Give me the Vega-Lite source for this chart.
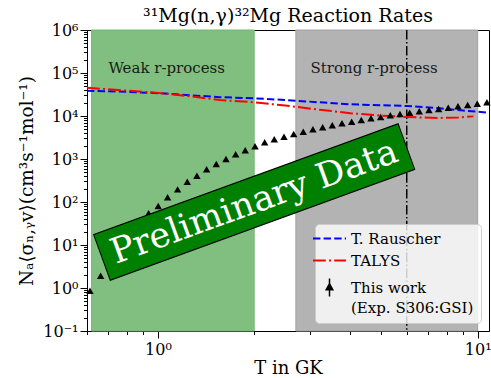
{
  "$schema": "https://vega.github.io/schema/vega-lite/v6.json",
  "width": 402,
  "height": 301,
  "autosize": {"type": "none"},
  "padding": {"left": 87, "top": 30, "right": 2, "bottom": 47},
  "background": "white",
  "title": {"text": "³¹Mg(n,γ)³²Mg Reaction Rates", "font": "DejaVu Serif", "fontSize": 19, "fontWeight": "normal", "color": "black", "offset": -4},
  "config": {
    "view": {"stroke": "black", "strokeWidth": 1},
    "font": "DejaVu Serif"
  },
  "datasets": {
    "bands": [
      {"region": "weak", "start": 0.62, "end": 2.0, "label": "Weak r-process", "labelT": 0.7, "labelRate": 100000},
      {"region": "strong", "start": 2.7, "end": 10.0, "label": "Strong r-process", "labelT": 3.0, "labelRate": 100000}
    ],
    "marker": [{"T": 6.0}],
    "theory": [
      {"model": "T. Rauscher", "T": 0.6, "rate": 38700},
      {"model": "T. Rauscher", "T": 0.8, "rate": 36500},
      {"model": "T. Rauscher", "T": 1.0, "rate": 34000},
      {"model": "T. Rauscher", "T": 1.56, "rate": 27400},
      {"model": "T. Rauscher", "T": 2.0, "rate": 25700},
      {"model": "T. Rauscher", "T": 2.5, "rate": 23600},
      {"model": "T. Rauscher", "T": 3.2, "rate": 20800},
      {"model": "T. Rauscher", "T": 4.0, "rate": 18700},
      {"model": "T. Rauscher", "T": 5.0, "rate": 17800},
      {"model": "T. Rauscher", "T": 6.0, "rate": 17100},
      {"model": "T. Rauscher", "T": 7.6, "rate": 15100},
      {"model": "T. Rauscher", "T": 9.0, "rate": 13400},
      {"model": "T. Rauscher", "T": 10.85, "rate": 11900},
      {"model": "TALYS", "T": 0.6, "rate": 45500},
      {"model": "TALYS", "T": 0.75, "rate": 40300},
      {"model": "TALYS", "T": 1.0, "rate": 34500},
      {"model": "TALYS", "T": 1.3, "rate": 28000},
      {"model": "TALYS", "T": 1.56, "rate": 23600},
      {"model": "TALYS", "T": 2.0, "rate": 20800},
      {"model": "TALYS", "T": 2.5, "rate": 17500},
      {"model": "TALYS", "T": 3.2, "rate": 14000},
      {"model": "TALYS", "T": 4.0, "rate": 11600},
      {"model": "TALYS", "T": 5.0, "rate": 10200},
      {"model": "TALYS", "T": 6.0, "rate": 9500},
      {"model": "TALYS", "T": 7.5, "rate": 9000},
      {"model": "TALYS", "T": 8.7, "rate": 9200},
      {"model": "TALYS", "T": 9.7, "rate": 9800}
    ],
    "exp": [
      {"model": "This work", "T": 0.613, "rate": 0.865},
      {"model": "This work", "T": 0.662, "rate": 1.93},
      {"model": "This work", "T": 0.708, "rate": 4.0},
      {"model": "This work", "T": 0.759, "rate": 8.5},
      {"model": "This work", "T": 0.813, "rate": 16},
      {"model": "This work", "T": 0.872, "rate": 31},
      {"model": "This work", "T": 0.935, "rate": 55},
      {"model": "This work", "T": 1.002, "rate": 81},
      {"model": "This work", "T": 1.072, "rate": 129},
      {"model": "This work", "T": 1.152, "rate": 197},
      {"model": "This work", "T": 1.235, "rate": 296},
      {"model": "This work", "T": 1.324, "rate": 409},
      {"model": "This work", "T": 1.42, "rate": 576},
      {"model": "This work", "T": 1.522, "rate": 766},
      {"model": "This work", "T": 1.632, "rate": 1000},
      {"model": "This work", "T": 1.75, "rate": 1285},
      {"model": "This work", "T": 1.875, "rate": 1593},
      {"model": "This work", "T": 2.012, "rate": 1972},
      {"model": "This work", "T": 2.157, "rate": 2445},
      {"model": "This work", "T": 2.311, "rate": 2870},
      {"model": "This work", "T": 2.479, "rate": 3300},
      {"model": "This work", "T": 2.658, "rate": 3812},
      {"model": "This work", "T": 2.848, "rate": 4313},
      {"model": "This work", "T": 3.053, "rate": 4907},
      {"model": "This work", "T": 3.275, "rate": 5460},
      {"model": "This work", "T": 3.51, "rate": 6080},
      {"model": "This work", "T": 3.764, "rate": 6770},
      {"model": "This work", "T": 4.036, "rate": 7370},
      {"model": "This work", "T": 4.325, "rate": 8070},
      {"model": "This work", "T": 4.638, "rate": 8840},
      {"model": "This work", "T": 4.973, "rate": 9480},
      {"model": "This work", "T": 5.33, "rate": 10380},
      {"model": "This work", "T": 5.715, "rate": 11140},
      {"model": "This work", "T": 6.128, "rate": 11950},
      {"model": "This work", "T": 6.568, "rate": 12860},
      {"model": "This work", "T": 7.042, "rate": 13800},
      {"model": "This work", "T": 7.551, "rate": 14560},
      {"model": "This work", "T": 8.091, "rate": 15610},
      {"model": "This work", "T": 8.677, "rate": 16820},
      {"model": "This work", "T": 9.305, "rate": 18030},
      {"model": "This work", "T": 9.97, "rate": 19330},
      {"model": "This work", "T": 10.69, "rate": 20840}
    ],
    "annot": [{"T": 2.0, "rate": 100, "text": "Preliminary Data"}]
  },
  "layer": [
    {
      "data": {"name": "bands"},
      "transform": [{"filter": "datum.region === 'weak'"}],
      "mark": {"type": "rect", "fill": "#80bf80", "stroke": "#72b872", "strokeWidth": 1},
      "encoding": {
        "x": {
          "field": "start", "type": "quantitative",
          "scale": {"type": "log", "domain": [0.6, 10.85], "nice": false},
          "axis": {
            "title": "T in GK", "titleFont": "DejaVu Serif", "titleFontSize": 18, "titleFontWeight": "normal", "titleColor": "black", "titlePadding": 2,
            "values": [0.6, 0.7, 0.8, 0.9, 1, 2, 3, 4, 5, 6, 7, 8, 9, 10],
            "labelExpr": "datum.value == 1 ? '10⁰' : datum.value == 10 ? '10¹' : ''",
            "labelFont": "DejaVu Serif", "labelFontSize": 16, "labelColor": "black", "labelPadding": 3, "labelOverlap": false, "labelFlush": false,
            "tickSize": {"condition": {"test": "datum.value == 1 || datum.value == 10", "value": 7}, "value": 3.5},
            "tickColor": "black", "domainColor": "black", "grid": false
          }
        },
        "x2": {"field": "end"}
      }
    },
    {
      "data": {"name": "bands"},
      "transform": [{"filter": "datum.region === 'strong'"}],
      "mark": {"type": "rect", "fill": "#b3b3b3", "stroke": "#a2a2a2", "strokeWidth": 1},
      "encoding": {
        "x": {"field": "start", "type": "quantitative"},
        "x2": {"field": "end"}
      }
    },
    {
      "data": {"name": "bands"},
      "mark": {"type": "text", "align": "left", "baseline": "alphabetic", "font": "DejaVu Serif", "fontSize": 15, "color": "#1a1a1a"},
      "encoding": {
        "x": {"field": "labelT", "type": "quantitative"},
        "y": {
          "field": "labelRate", "type": "quantitative",
          "scale": {"type": "log", "domain": [0.1, 1000000], "nice": false},
          "axis": {
            "title": "Nₐ⟨σₙ,ᵧv⟩(cm³s⁻¹mol⁻¹)", "titleFont": "DejaVu Serif", "titleFontSize": 18.5, "titleFontWeight": "normal", "titleColor": "black", "titlePadding": 6,
            "values": [0.1,0.2,0.3,0.4,0.5,0.6,0.7,0.8,0.9,1,2,3,4,5,6,7,8,9,10,20,30,40,50,60,70,80,90,100,200,300,400,500,600,700,800,900,1000,2000,3000,4000,5000,6000,7000,8000,9000,10000,20000,30000,40000,50000,60000,70000,80000,90000,100000,200000,300000,400000,500000,600000,700000,800000,900000,1000000],
            "labelExpr": "abs(log(datum.value)/LN10 - round(log(datum.value)/LN10)) < 0.001 ? '10' + ['⁻¹','⁰','¹','²','³','⁴','⁵','⁶'][round(log(datum.value)/LN10) + 1] : ''",
            "labelFont": "DejaVu Serif", "labelFontSize": 16, "labelColor": "black", "labelPadding": 2, "labelOverlap": false, "labelFlush": false,
            "tickSize": {"condition": {"test": "abs(log(datum.value)/LN10 - round(log(datum.value)/LN10)) < 0.001", "value": 7}, "value": 3.5},
            "tickColor": "black", "domainColor": "black", "grid": false
          }
        },
        "text": {"field": "label"}
      }
    },
    {
      "data": {"name": "marker"},
      "mark": {"type": "rule", "color": "black", "strokeWidth": 1.5, "strokeDash": [9.6, 2.4, 1.5, 2.4]},
      "encoding": {
        "x": {"field": "T", "type": "quantitative"}
      }
    },
    {
      "data": {"name": "theory"},
      "mark": {"type": "line", "strokeWidth": 2},
      "encoding": {
        "x": {"field": "T", "type": "quantitative"},
        "y": {"field": "rate", "type": "quantitative"},
        "color": {
          "field": "model", "type": "nominal",
          "scale": {"domain": ["T. Rauscher", "TALYS", "This work"], "range": ["blue", "red", "black"]},
          "legend": {
            "title": null, "orient": "bottom-right", "offset": 8,
            "labelFont": "DejaVu Serif", "labelFontSize": 15, "labelColor": "black", "labelLimit": 300,
            "labelOffset": 14, "symbolSize": 1089, "padding": 7, "rowPadding": 6,
            "fillColor": "rgba(255,255,255,0.8)", "strokeColor": "#cccccc", "cornerRadius": 4,
            "labelExpr": "datum.label === 'This work' ? ['This work', '(Exp. S306:GSI)'] : datum.label",
            "encode": {
              "labels": {
                "update": {
                  "font": {"value": "DejaVu Serif"},
                  "lineHeight": {"value": 20}
                }
              },
              "symbols": {
                "update": {
                  "shape": {"signal": "datum.value === 'This work' ? 'M0,-0.55L0,0.55M-0.2,0.14L0,-0.24L0.2,0.14Z' : 'stroke'"},
                  "strokeDash": {"signal": "datum.value === 'T. Rauscher' ? [7.4, 3.2] : datum.value === 'TALYS' ? [12.8, 3.2, 2, 3.2] : [1, 0]"},
                  "strokeWidth": {"signal": "datum.value === 'This work' ? 1.5 : 2"},
                  "fill": {"signal": "datum.value === 'This work' ? 'black' : 'transparent'"},
                  "stroke": {"signal": "datum.value === 'T. Rauscher' ? 'blue' : datum.value === 'TALYS' ? 'red' : 'black'"},
                  "opacity": {"value": 1}
                }
              }
            }
          }
        },
        "strokeDash": {
          "field": "model", "type": "nominal",
          "scale": {"domain": ["T. Rauscher", "TALYS"], "range": [[7.4, 3.2], [12.8, 3.2, 2, 3.2]]},
          "legend": null
        }
      }
    },
    {
      "data": {"name": "exp"},
      "mark": {"type": "point", "shape": "triangle-up", "filled": true, "size": 55, "opacity": 1},
      "encoding": {
        "x": {"field": "T", "type": "quantitative"},
        "y": {"field": "rate", "type": "quantitative"},
        "color": {"field": "model", "type": "nominal"}
      }
    },
    {
      "data": {"name": "annot"},
      "mark": {"type": "point", "shape": "M-1,-0.15L1,-0.15L1,0.15L-1,0.15Z", "size": 105000, "angle": -20, "filled": true, "fill": "green", "stroke": "black", "strokeWidth": 1, "opacity": 1, "fillOpacity": 1},
      "encoding": {
        "x": {"field": "T", "type": "quantitative"},
        "y": {"field": "rate", "type": "quantitative"}
      }
    },
    {
      "data": {"name": "annot"},
      "mark": {"type": "text", "angle": -20, "align": "center", "baseline": "middle", "font": "DejaVu Serif", "fontSize": 35, "color": "white"},
      "encoding": {
        "x": {"field": "T", "type": "quantitative"},
        "y": {"field": "rate", "type": "quantitative"},
        "text": {"field": "text"}
      }
    }
  ]
}
